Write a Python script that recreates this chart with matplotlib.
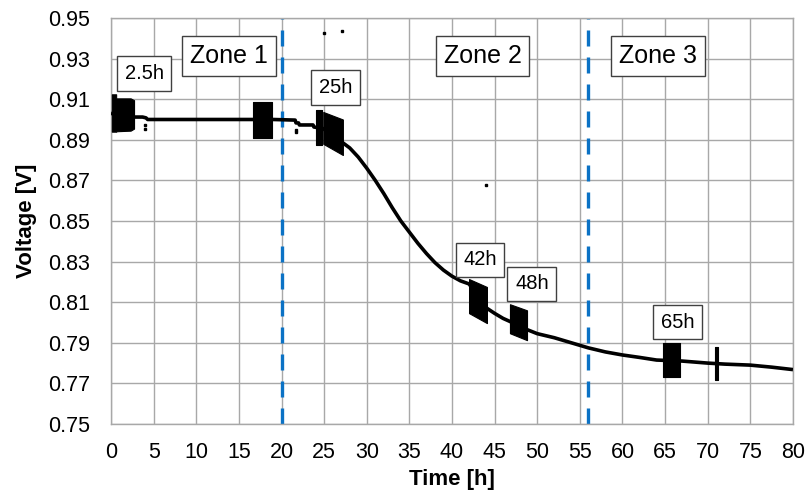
import numpy as np
import matplotlib
matplotlib.use("Agg")
import matplotlib.pyplot as plt

plt.rcParams["font.family"] = ["Liberation Sans", "DejaVu Sans"]

# Cell voltage trace (h, V)
t_curve = [0.0, 2.7, 3.7, 4.1, 4.3, 16.7, 19.0, 21.6, 21.7, 22.0, 22.1, 23.7, 23.8, 24.9,
           27.2, 28.0, 29.0, 30.0, 31.0, 32.0, 33.0, 34.0, 35.0, 36.0, 37.0, 38.0, 39.0,
           40.0, 41.0, 42.0, 44.1, 45.0, 46.0, 46.8, 48.8, 50.0, 52.0, 54.0, 56.0, 58.0,
           60.0, 62.0, 64.0, 67.0, 70.0, 72.0, 75.0, 77.5, 80.0]
v_curve = [0.9030, 0.9012, 0.9012, 0.9008, 0.9000, 0.9000, 0.9000, 0.8997, 0.8983, 0.8983,
           0.8973, 0.8973, 0.8963, 0.8955, 0.8885, 0.8860, 0.8815, 0.8760, 0.8700, 0.8635,
           0.8565, 0.8500, 0.8445, 0.8390, 0.8340, 0.8295, 0.8258, 0.8228, 0.8205, 0.8190,
           0.8070, 0.8045, 0.8020, 0.8005, 0.7965, 0.7945, 0.7925, 0.7900, 0.7875, 0.7855,
           0.7840, 0.7828, 0.7815, 0.7810, 0.7800, 0.7795, 0.7790, 0.7780, 0.7768]

# Measurement bursts: (times, upper envelope, lower envelope)
burst_t = [[0.1, 0.6, 0.6, 2.3, 2.7],
           [16.7, 18.85],
           [24.0, 24.7],
           [24.9, 27.2],
           [42.0, 44.1],
           [46.8, 48.8],
           [64.75, 66.75],
           [70.8, 71.2]]
burst_hi = [[0.9124, 0.9124, 0.9104, 0.9104, 0.9095],
            [0.9088, 0.9088],
            [0.9047, 0.9047],
            [0.9037, 0.9000],
            [0.8214, 0.8175],
            [0.8090, 0.8060],
            [0.7898, 0.7898],
            [0.7878, 0.7878]]
burst_lo = [[0.8940, 0.8940, 0.8942, 0.8945, 0.8955],
            [0.8907, 0.8907],
            [0.8874, 0.8874],
            [0.8880, 0.8825],
            [0.8046, 0.7997],
            [0.7947, 0.7913],
            [0.7730, 0.7730],
            [0.7715, 0.7715]]

# Isolated outlier samples
t_dots = [4.0, 4.0, 21.7, 21.7, 25.0, 27.1, 44.0]
v_dots = [0.8955, 0.8975, 0.8938, 0.8950, 0.9426, 0.9436, 0.8677]

zone_bounds = [20, 56]
zone_names = ["Zone 1", "Zone 2", "Zone 3"]
burst_names = ["2.5h", "25h", "42h", "48h", "65h"]

fig = plt.figure(figsize=(8.08, 4.94), dpi=100)
ax = fig.add_axes([0.1374, 0.1417, 0.8440, 0.8219])

ax.set_xlim(0, 80)
ax.set_ylim(0.75, 0.95)
ax.set_xticks(np.arange(0, 81, 5))
ax.set_yticks(np.arange(0.75, 0.951, 0.02))
ax.yaxis.set_major_formatter(matplotlib.ticker.FormatStrFormatter("%.2f"))
ax.grid(True, color="#a8a8a8", lw=1.0, zorder=0)
ax.set_axisbelow(True)
for s in ax.spines.values():
    s.set_color("#a8a8a8")
    s.set_linewidth(1.0)
ax.tick_params(length=0, labelsize=15.5, colors="black")
ax.tick_params(axis="x", pad=13)
ax.tick_params(axis="y", pad=15)

ax.set_xlabel("Time [h]", fontsize=16, fontweight="bold", labelpad=4)
ax.set_ylabel("Voltage [V]", fontsize=16, fontweight="bold", labelpad=8)

for xb in zone_bounds:
    ax.axvline(xb, color="#0b72c5", lw=2.4, dashes=(4.8, 3.3), zorder=2)

ax.plot(t_curve, v_curve, color="black", lw=2.6, zorder=3, solid_capstyle="butt")
for tt, hi, lo in zip(burst_t, burst_hi, burst_lo):
    ax.fill_between(tt, lo, hi, color="black", lw=0.8, edgecolor="black", zorder=3)
ax.plot(t_dots, v_dots, ls="none", marker="s", ms=1.6, color="black", zorder=3)

box = dict(boxstyle="square,pad=0.32", fc="white", ec="#404040", lw=1.0)
zone_pos = [(13.84, 0.9315), (43.58, 0.9313), (64.22, 0.9313)]
for name, (x, y) in zip(zone_names, zone_pos):
    ax.text(x, y, name, fontsize=18, ha="center", va="center", bbox=box, zorder=5)

tag_box = dict(boxstyle="square,pad=0.38", fc="white", ec="#404040", lw=1.0)
tag_pos = [(3.87, 0.9227), (26.33, 0.9158), (43.28, 0.8308), (49.38, 0.8190), (66.45, 0.8002)]
for name, (x, y) in zip(burst_names, tag_pos):
    ax.text(x, y, name, fontsize=14.5, ha="center", va="center", bbox=tag_box, zorder=5)

fig.savefig("out.png", dpi=100)
